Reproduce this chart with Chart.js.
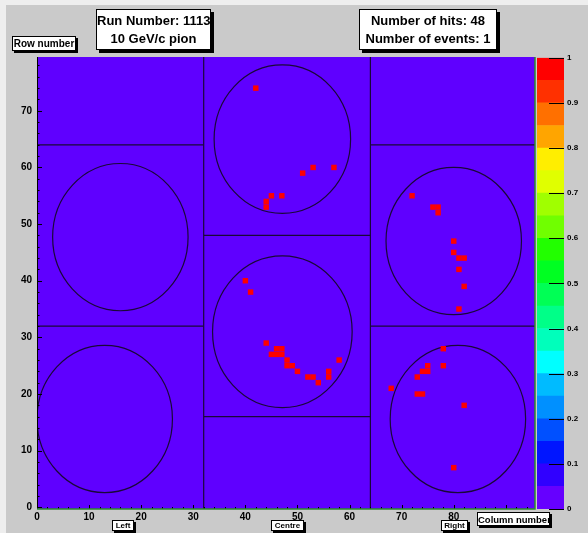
<!DOCTYPE html>
<html>
<head>
<meta charset="utf-8">
<title>RICH hit map</title>
<script src="https://cdn.jsdelivr.net/npm/chart.js@4.4.1/dist/chart.umd.min.js"></script>
<style>
    html, body { margin: 0; padding: 0; }
    body { width: 588px; height: 533px; overflow: hidden; background: #cacaca; position: relative; font-family: "Liberation Sans", Arial, sans-serif; }
    #edgeTop { position: absolute; left: 0; top: 0; width: 588px; height: 5px; background: #eeeeee; }
    #edgeLeft { position: absolute; left: 0; top: 0; width: 6px; height: 533px; background: #eeeeee; }
    canvas { position: absolute; }
    #hitmap { left: 0; top: 0; }
    #palette { left: 537px; top: 50px; }
    .pave { position: absolute; box-sizing: border-box; background: #fff; border: 1px solid #000; box-shadow: 2px 2px 0 #000; font-weight: bold; color: #000; text-align: center; white-space: nowrap; overflow: hidden; display: flex; flex-direction: column; justify-content: center; }
</style>
</head>
<body>
<div id="edgeTop"></div>
<div id="edgeLeft"></div>
<canvas id="hitmap" width="588" height="533"></canvas>
<canvas id="palette" width="51" height="483"></canvas>

<div class="pave" style="left:12px;top:36px;width:64px;height:15px;font-size:10px;">Row number</div>
<div class="pave" style="left:96px;top:9px;width:115px;height:41px;font-size:13px;line-height:18px;box-shadow:3px 3px 0 #000;"><div>Run Number: 1113</div><div>10 GeV/c pion</div></div>
<div class="pave" style="left:359px;top:9px;width:138px;height:41px;font-size:13px;line-height:18px;box-shadow:3px 3px 0 #000;"><div>Number of hits: 48</div><div>Number of events: 1</div></div>
<div class="pave" style="left:477px;top:512px;width:73px;height:14px;font-size:9.5px;">Column number</div>
<div class="pave" style="left:112px;top:520px;width:22px;height:11px;font-size:8px;">Left</div>
<div class="pave" style="left:271px;top:520px;width:33px;height:11px;font-size:8px;">Centre</div>
<div class="pave" style="left:441px;top:520px;width:27px;height:11px;font-size:8px;">Right</div>

<script>
// hit cells (column, row), one entry per hit pixel
const hitCol = [42, 51, 53, 57, 45, 47, 44, 44,
    40, 41, 44, 46, 47, 45, 46, 47, 48, 48, 49, 50, 52, 53, 54, 56, 56, 58,
    72, 76, 77, 77, 80, 80, 81, 82, 81, 82, 81,
    78, 75, 74, 75, 73, 78, 68, 73, 74, 82, 80];
const hitRow = [74, 59, 60, 60, 55, 55, 54, 53,
    40, 38, 29, 28, 28, 27, 27, 27, 26, 25, 25, 24, 23, 23, 22, 24, 23, 26,
    55, 53, 53, 52, 47, 45, 44, 44, 42, 39, 35,
    28, 25, 24, 24, 23, 25, 21, 20, 20, 18, 7];

const xTicks = [0, 10, 20, 30, 40, 50, 60, 70, 80, 90];
const yTicks = [0, 10, 20, 30, 40, 50, 60, 70];

// PMT boundaries [x1, y1, x2, y2] and photocathode circles [cx, cy, r]
const pmtEdges = [[32, -0.3, 32, 79.5], [64, -0.3, 64, 79.5],
    [0, 32, 32, 32], [0, 64, 32, 64],
    [32, 16, 64, 16], [32, 48, 64, 48],
    [64, 32, 95.6, 32], [64, 64, 95.6, 64]];
const pmtCircles = [[13, 15.6, 13], [16, 47.7, 13], [47.1, 31, 13.4], [47.1, 65, 13.1], [80, 47, 13], [80.8, 15.6, 13]];

// colour palette (bottom to top) and its levels
const paletteColors = ["#6600ff", "#3000ff", "#0015ff", "#0050ff", "#0090ff", "#00bbff", "#00ffff", "#00ffbb", "#00ff88", "#00ff55",
    "#00ff22", "#22ff00", "#70ff00", "#a0ff00", "#e0ff00", "#ffee00", "#ffa500", "#ff7000", "#ff3000", "#ff0000"];
const paletteLevels = [0, 0.05, 0.1, 0.15, 0.2, 0.25, 0.3, 0.35, 0.4, 0.45, 0.5, 0.55, 0.6, 0.65, 0.7, 0.75, 0.8, 0.85, 0.9, 0.95, 1];
const paletteTicks = [0, 0.1, 0.2, 0.3, 0.4, 0.5, 0.6, 0.7, 0.8, 0.9, 1];

const tickFont = (size) => ({ family: "Liberation Sans", weight: "bold", size });

const frameFill = {
    id: "frameFill",
    beforeDatasetsDraw(chart) {
        const { ctx, chartArea: a, scales: { x, y } } = chart;
        ctx.save();
        ctx.fillStyle = "#5f00ff";
        ctx.fillRect(a.left, a.top, a.width, a.height);
        ctx.beginPath();
        ctx.rect(a.left, a.top, a.width, a.height);
        ctx.clip();
        ctx.strokeStyle = "#1a0838";
        ctx.lineWidth = 1.2;
        pmtCircles.forEach(([cx, cy, r]) => {
            const px = x.getPixelForValue(cx), py = y.getPixelForValue(cy);
            ctx.beginPath();
            ctx.ellipse(px, py, x.getPixelForValue(cx + r) - px, py - y.getPixelForValue(cy + r), 0, 0, Math.PI * 2);
            ctx.stroke();
        });
        ctx.restore();
    }
};

const frameTicks = {
    id: "frameTicks",
    afterDatasetsDraw(chart) {
        const { ctx, chartArea: a, scales: { x, y } } = chart;
        ctx.save();
        ctx.strokeStyle = "#000";
        ctx.lineWidth = 1;
        ctx.beginPath();
        for (let v = 0; v <= 94; v += 2) {
            const px = Math.round(x.getPixelForValue(v)) + 0.5;
            ctx.moveTo(px, a.bottom);
            ctx.lineTo(px, a.bottom - (v % 10 ? 2 : 4));
        }
        for (let v = 0; v <= 78; v += 2) {
            const py = Math.round(y.getPixelForValue(v)) + 0.5;
            ctx.moveTo(a.left, py);
            ctx.lineTo(a.left + (v % 10 ? 2.5 : 5), py);
        }
        ctx.moveTo(a.left + 0.5, a.top);
        ctx.lineTo(a.left + 0.5, a.bottom);
        ctx.stroke();
        ctx.strokeStyle = "#2b8a2b";
        ctx.lineWidth = 1.5;
        ctx.beginPath();
        ctx.moveTo(a.left, a.bottom);
        ctx.lineTo(a.right, a.bottom);
        ctx.lineTo(a.right, a.top);
        ctx.stroke();
        ctx.restore();
    }
};

const paletteTickMarks = {
    id: "paletteTickMarks",
    afterDatasetsDraw(chart) {
        const { ctx, chartArea: a, scales: { y } } = chart;
        ctx.save();
        ctx.strokeStyle = "#000";
        ctx.lineWidth = 1;
        ctx.beginPath();
        y.ticks.forEach((t) => {
            const py = Math.round(y.getPixelForValue(t.value)) + 0.5;
            ctx.moveTo(a.right - 15, py);
            ctx.lineTo(a.right, py);
        });
        ctx.stroke();
        ctx.restore();
    }
};

const edgeSets = pmtEdges.map(([x1, y1, x2, y2]) => ({ type: "line", data: [{ x: x1, y: y1 }, { x: x2, y: y2 }], borderColor: "#1a0838", borderWidth: 1.2, pointRadius: 0, fill: false }));

new Chart(document.getElementById("hitmap"), {
    type: "scatter",
    data: {
        datasets: [
            { data: hitCol.map((x, i) => ({ x, y: hitRow[i] })), pointStyle: "rect", pointRadius: 3.85, pointHoverRadius: 3.85, pointBackgroundColor: "#ff0000", pointBorderWidth: 0 },
            ...edgeSets
        ]
    },
    options: {
        responsive: false,
        animation: false,
        layout: { padding: { top: 57, right: 53, left: 0, bottom: 0 } },
        plugins: { legend: { display: false }, tooltip: { enabled: false } },
        scales: {
            x: { type: "linear", min: 0, max: 95.6, grid: { display: false, drawTicks: false }, border: { display: false },
                afterBuildTicks: (s) => { s.ticks = xTicks.map((value) => ({ value })); },
                afterFit: (s) => { s.height = 24; },
                ticks: { padding: 2, color: "#000", font: tickFont(10), maxRotation: 0, autoSkip: false } },
            y: { type: "linear", min: -0.3, max: 79.5, grid: { display: false, drawTicks: false }, border: { display: false },
                afterBuildTicks: (s) => { s.ticks = yTicks.map((value) => ({ value })); },
                afterFit: (s) => { s.width = 37; },
                ticks: { padding: 5, color: "#000", font: tickFont(10), autoSkip: false } }
        }
    },
    plugins: [frameFill, frameTicks]
});

new Chart(document.getElementById("palette"), {
    type: "bar",
    data: {
        labels: [""],
        datasets: paletteColors.map((color, i) => ({ data: [[paletteLevels[i], paletteLevels[i + 1]]], backgroundColor: color, borderWidth: 0, grouped: false, barPercentage: 1, categoryPercentage: 1 }))
    },
    options: {
        responsive: false,
        animation: false,
        layout: { padding: { top: 7, bottom: 24, left: 0, right: 0 } },
        plugins: { legend: { display: false }, tooltip: { enabled: false } },
        scales: {
            x: { display: false },
            y: { position: "right", min: 0, max: 1, grid: { display: false, drawTicks: false }, border: { display: false },
                afterBuildTicks: (s) => { s.ticks = paletteTicks.map((value) => ({ value })); },
                afterFit: (s) => { s.width = 24; },
                ticks: { padding: 3, color: "#000", font: tickFont(8), autoSkip: false, callback: (v) => String(v) } }
        }
    },
    plugins: [paletteTickMarks]
});
</script>
</body>
</html>
